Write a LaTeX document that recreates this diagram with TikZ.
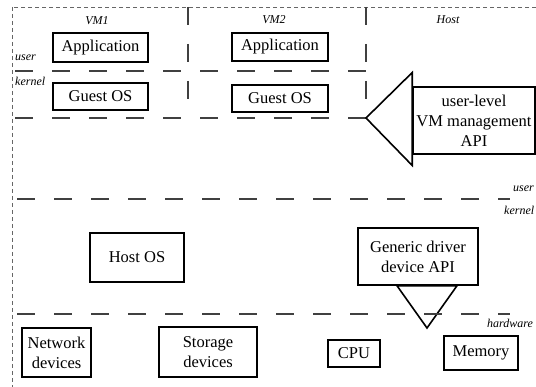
\documentclass[tikz,border=0pt]{standalone}
\usepackage{fontspec}
\setmainfont{Liberation Serif}
\usepackage{tikz}
\usetikzlibrary{calc}

\tikzset{
    box/.style={draw, line width=1.5pt, align=center, inner sep=0pt,
        font=\fontsize{16.5}{20}\selectfont},
    tag/.style={font=\fontsize{12}{14}\selectfont\itshape, inner sep=0pt},
    layer/.style={draw=black!75, line width=1.1pt, dash pattern=on 18pt off 19pt},
    frame/.style={draw=black!60, line width=0.6pt, dash pattern=on 4pt off 3pt},
    bigarrow/.style={draw, line width=1.6pt, line join=miter},
}

\begin{document}
\begin{tikzpicture}[x=1pt,y=-1pt]
		\useasboundingbox (0,0) rectangle (536,387);
		\clip (0,0) rectangle (536,387);
		\draw[frame] (12,7) rectangle (560,400);
		% guests
		\node[tag] (vm1) at (97,21) {VM1};
		\node[tag] (vm2) at (274,20) {VM2};
		\node[tag] (host) at (448,20) {Host};
		\node[box, minimum width=95pt, minimum height=29pt] (app1) at (100.5,47.5) {Application};
		\node[box, minimum width=96pt, minimum height=28pt] (app2) at (280,47) {Application};
		\node[box, minimum width=95pt, minimum height=27pt] (guest1) at (100.5,96.5) {Guest OS};
		\node[box, minimum width=96pt, minimum height=27pt] (guest2) at (280,98.5) {Guest OS};
		\node[tag, anchor=west] (vmuser) at (15,58) {user};
		\node[tag, anchor=west] (vmkernel) at (15,81) {kernel};
		\draw[layer] (188,7) -- (188,100);
		\draw[layer] (366,7) -- (366,100);
		\draw[layer] (15,71) -- (366,71);
		\coordinate (vmtip) at (366,118);
		\draw[layer] (15,118) -- (vmtip);
		% host user space
		\node[box, minimum width=122pt, minimum height=67pt] (api) at (474,120.5) {user-level\\VM management\\API};
		\draw[bigarrow] ($(api.west)+(0,-48)$) -- (vmtip) -- ($(api.west)+(0,45)$) -- cycle;
		\draw[layer] (17,199) -- (510,199);
		\node[tag, anchor=west] (hostuser) at (513,189) {user};
		\node[tag, anchor=west] (hostkernel) at (504,210) {kernel};
		% host kernel
		\node[box, minimum width=94pt, minimum height=49pt] (hostos) at (137,257.5) {Host OS};
		\node[box, minimum width=120pt, minimum height=57pt] (generic) at (418,256.5) {Generic driver\\device API};
		\coordinate (hwtip) at (427,328);
		\draw[bigarrow] ($(generic.south)+(-21,0)$) -- (hwtip) -- ($(generic.south)+(39,0)$) -- cycle;
		\draw[layer] (17,314) -- (510,314);
		\node[tag, anchor=west] (hw) at (487,323) {hardware};
		% hardware
		\node[box, minimum width=69pt, minimum height=49pt] (net) at (56.5,352.5) {Network\\devices};
		\node[box, minimum width=98pt, minimum height=50pt] (storage) at (208,352) {Storage\\devices};
		\node[box, minimum width=52pt, minimum height=27pt] (cpu) at (354,353.5) {CPU};
		\node[box, minimum width=74pt, minimum height=34pt] (mem) at (481,353) {Memory};
	\end{tikzpicture}
\end{document}
